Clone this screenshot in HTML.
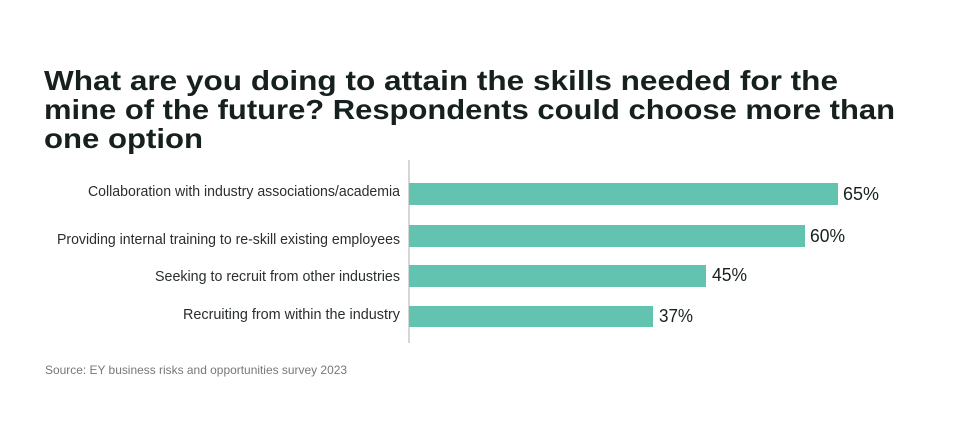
<!DOCTYPE html>
<html><head><meta charset="utf-8"><style>
html,body{margin:0;padding:0;background:#fff;width:958px;height:430px;overflow:hidden}
svg{display:block}
</style></head><body>
<svg width="958" height="430" viewBox="0 0 958 430" xmlns="http://www.w3.org/2000/svg">
<rect width="958" height="430" fill="#fff"/>
<g font-family="Liberation Sans, sans-serif" font-weight="bold" font-size="28" fill="#16211f">
<text x="44" y="90" textLength="794" lengthAdjust="spacingAndGlyphs">What are you doing to attain the skills needed for the</text>
<text x="44" y="119" textLength="851" lengthAdjust="spacingAndGlyphs">mine of the future? Respondents could choose more than</text>
<text x="44" y="148" textLength="159" lengthAdjust="spacingAndGlyphs">one option</text>
</g>
<line x1="409" y1="160" x2="409" y2="343" stroke="#c8c8c8" stroke-width="1.5"/>
<g fill="#62c3b1">
<rect x="409" y="183" width="429" height="22"/>
<rect x="409" y="225" width="396" height="22"/>
<rect x="409" y="265" width="297" height="22"/>
<rect x="409" y="306" width="244" height="21"/>
</g>
<g font-family="Liberation Sans, sans-serif" font-size="15" fill="#2a2e30" text-anchor="end">
<text x="400" y="196" textLength="312" lengthAdjust="spacingAndGlyphs">Collaboration with industry associations/academia</text>
<text x="400" y="244" textLength="343" lengthAdjust="spacingAndGlyphs">Providing internal training to re-skill existing employees</text>
<text x="400" y="281" textLength="245" lengthAdjust="spacingAndGlyphs">Seeking to recruit from other industries</text>
<text x="400" y="319" textLength="217" lengthAdjust="spacingAndGlyphs">Recruiting from within the industry</text>
</g>
<g font-family="Liberation Sans, sans-serif" font-size="18" fill="#16211f">
<text x="843" y="200" textLength="36" lengthAdjust="spacingAndGlyphs">65%</text>
<text x="810" y="242" textLength="35" lengthAdjust="spacingAndGlyphs">60%</text>
<text x="712" y="281" textLength="35" lengthAdjust="spacingAndGlyphs">45%</text>
<text x="659" y="322" textLength="34" lengthAdjust="spacingAndGlyphs">37%</text>
</g>
<text x="45" y="374" font-family="Liberation Sans, sans-serif" font-size="12" fill="#777" textLength="302" lengthAdjust="spacingAndGlyphs">Source: EY business risks and opportunities survey 2023</text>
</svg>
</body></html>
